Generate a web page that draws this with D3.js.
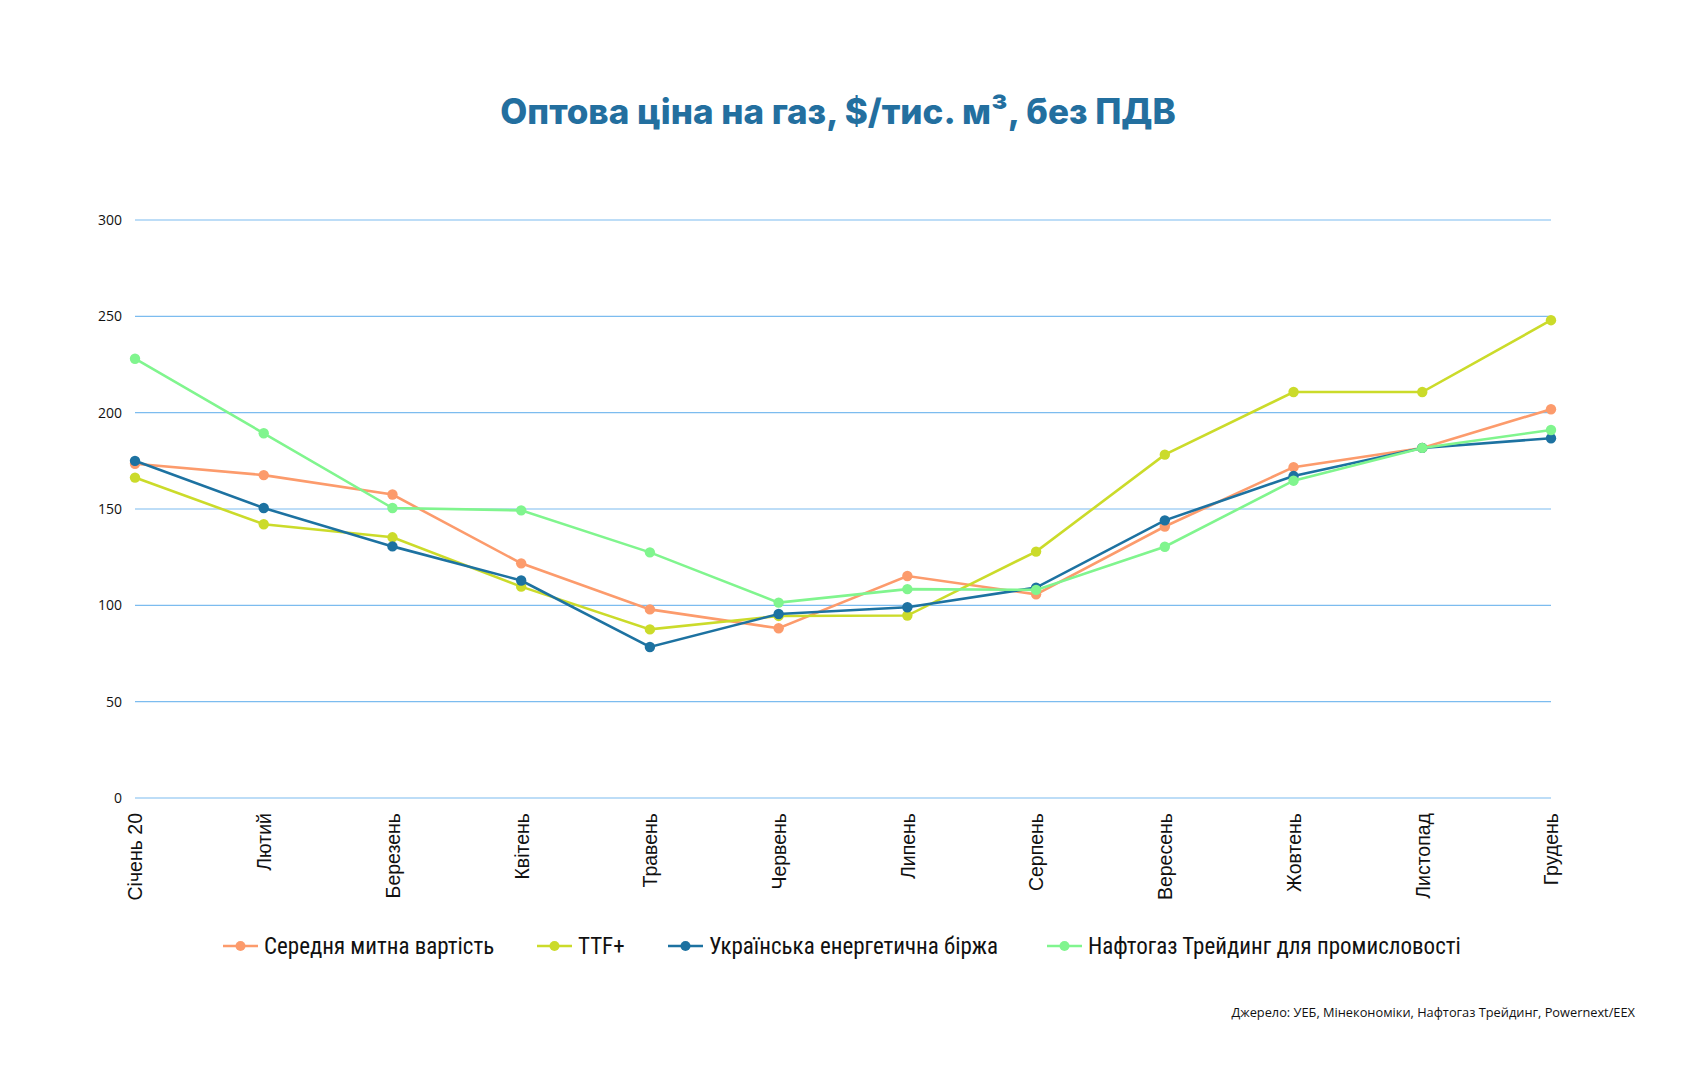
<!DOCTYPE html>
<html>
<head>
<meta charset="utf-8">
<script src="https://cdn.jsdelivr.net/npm/d3@7"></script>
<style>
  body { margin: 0; background: #fff; }
  svg { display: block; }
</style>
</head>
<body>
<script>
var w = 1684,
    h = 1080;

var margin = { top: 220, right: 133, bottom: 282, left: 135 };
var width = w - margin.left - margin.right,
    height = h - margin.top - margin.bottom;

// data
var months = ["Січень 20", "Лютий", "Березень", "Квітень", "Травень", "Червень",
              "Липень", "Серпень", "Вересень", "Жовтень", "Листопад", "Грудень"];
var customs = [173.5, 167.6, 157.5, 121.8, 97.9, 88.1, 115.2, 105.7, 140.9, 171.7, 181.7, 201.8];
var ttf = [166.3, 142.1, 135.3, 109.7, 87.5, 94.5, 94.7, 127.9, 178.2, 210.7, 210.7, 248];
var ueb = [175, 150.5, 130.6, 112.9, 78.4, 95.5, 99, 109.2, 144.1, 167.1, 181.7, 186.7];
var naftogaz = [228, 189.3, 150.5, 149.3, 127.5, 101.4, 108.4, 108, 130.4, 164.7, 181.7, 191];
var yTicks = [0, 50, 100, 150, 200, 250, 300];

var seriesNames = ["Середня митна вартість", "TTF+", "Українська енергетична біржа", "Нафтогаз Трейдинг для промисловості"];
var seriesColors = ["#fc9b6c", "#cbdb2a", "#1d72a1", "#80f58e"];
var series = [customs, ttf, ueb, naftogaz];

var x = d3.scalePoint()
    .domain(months)
    .range([0, width]);

var y = d3.scaleLinear()
    .domain([0, 300])
    .range([height, 0]);

var line = d3.line()
    .x(function(d, i) { return x(months[i]); })
    .y(function(d) { return y(d); });

var svg = d3.select("body").append("svg")
    .attr("width", w)
    .attr("height", h);

svg.append("text")
    .attr("x", 838)
    .attr("y", 124)
    .attr("text-anchor", "middle")
    .attr("font-family", "Inter, 'Open Sans', sans-serif")
    .attr("font-weight", 800)
    .attr("font-size", 35)
    .attr("fill", "#236f9f")
    .text("Оптова ціна на газ, $/тис. м³, без ПДВ");

var chart = svg.append("g")
    .attr("transform", "translate(" + margin.left + "," + margin.top + ")");

// grid
chart.append("g")
    .attr("class", "grid")
    .selectAll("line")
    .data(yTicks)
    .enter().append("line")
    .attr("x1", 0)
    .attr("x2", width)
    .attr("y1", function(d) { return y(d); })
    .attr("y2", function(d) { return y(d); })
    .attr("stroke", "#7cbcef")
    .attr("stroke-width", 1.2);

// y axis labels
chart.append("g")
    .attr("class", "axis axis--y")
    .call(d3.axisLeft(y).tickValues(yTicks).tickSize(0).tickPadding(13))
    .call(function(g) { g.select(".domain").remove(); })
    .selectAll("text")
    .attr("font-family", "'Open Sans', sans-serif")
    .attr("font-size", 14)
    .attr("fill", "#111");

// x axis labels
chart.append("g")
    .attr("class", "axis axis--x")
    .attr("transform", "translate(0," + height + ")")
    .call(d3.axisBottom(x).tickSize(0))
    .call(function(g) { g.select(".domain").remove(); })
    .selectAll("text")
    .attr("font-family", "'Liberation Sans', Arial, sans-serif")
    .attr("font-size", 19.5)
    .attr("fill", "#111")
    .attr("text-anchor", "end")
    .attr("transform", "rotate(-90)")
    .attr("x", -15)
    .attr("y", 0)
    .attr("dy", "0.35em");

// lines + points
series.forEach(function(vals, si) {
    var g = chart.append("g").attr("class", "series");
    g.append("path")
        .attr("d", line(vals))
        .attr("fill", "none")
        .attr("stroke", seriesColors[si])
        .attr("stroke-width", 2.6);
    g.selectAll("circle")
        .data(vals)
        .enter().append("circle")
        .attr("cx", function(d, i) { return x(months[i]); })
        .attr("cy", function(d) { return y(d); })
        .attr("r", 5.2)
        .attr("fill", seriesColors[si]);
});

// legend
var legendX = [223, 537, 668, 1047];
var legend = svg.append("g").attr("class", "legend");
seriesNames.forEach(function(name, i) {
    var lg = legend.append("g").attr("transform", "translate(" + legendX[i] + ",946)");
    lg.append("line")
        .attr("x1", 0).attr("x2", 35)
        .attr("stroke", seriesColors[i])
        .attr("stroke-width", 2.6);
    lg.append("circle")
        .attr("cx", 17.5)
        .attr("r", 5)
        .attr("fill", seriesColors[i]);
    lg.append("text")
        .attr("x", 41)
        .attr("dy", "0.35em")
        .attr("font-family", "'Liberation Sans Narrow', 'Roboto Condensed', 'Liberation Sans', sans-serif")
        .attr("font-size", 23)
        .attr("fill", "#111")
        .text(name);
});

svg.append("text")
    .attr("x", 1635)
    .attr("y", 1017)
    .attr("text-anchor", "end")
    .attr("font-family", "'Open Sans', sans-serif")
    .attr("font-size", 12.8)
    .attr("fill", "#111")
    .text("Джерело: УЕБ, Мінекономіки, Нафтогаз Трейдинг, Powernext/EEX");
</script>
</body>
</html>
